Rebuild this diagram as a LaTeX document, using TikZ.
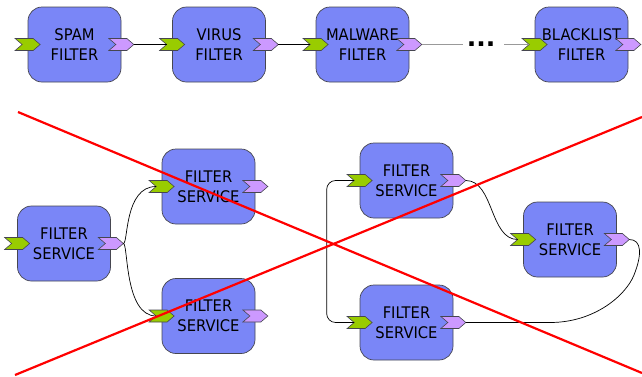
\documentclass[tikz,border=0pt]{standalone}
\usepackage{fontspec}
\setmainfont{DejaVu Sans}[FakeStretch=0.92]
\newfontfamily\dotsfont{DejaVu Sans}
\usetikzlibrary{calc}

\definecolor{boxblue}{RGB}{122,134,247}
\definecolor{portgreen}{RGB}{153,204,0}
\definecolor{portpurple}{RGB}{204,153,255}
\definecolor{edgegray}{RGB}{70,70,80}

\tikzset{
  fbox/.style={draw=edgegray, line width=0.7pt, fill=boxblue, rounded corners=14pt,
    minimum width=93pt, minimum height=75pt, inner sep=0pt, align=center,
    font=\fontsize{16}{20}\selectfont},
  inport/.style={draw=edgegray, line width=0.6pt, fill=portgreen, line join=miter},
  outport/.style={draw=edgegray, line width=0.6pt, fill=portpurple, line join=miter},
  wire/.style={draw=black, line width=0.7pt},
  faintwire/.style={draw=black!40, line width=0.7pt},
  crossline/.style={draw=red, line width=2.2pt},
}

% chevron port centred on a box edge; defines <name>-tip and <name>-notch
\newcommand\port[3]{%
  \begin{scope}[shift={#2}]
    \draw[#3] (-12.5,-6) -- (5.5,-6) -- (12.5,0) -- (5.5,6) -- (-12.5,6) -- (-5.5,0) -- cycle;
    \coordinate (#1-tip) at (12.5,0);
    \coordinate (#1-notch) at (-5.5,0);
  \end{scope}}

\begin{document}
\begin{tikzpicture}[x=1pt,y=-1pt]
\useasboundingbox (0,0) rectangle (642,376);

% pipeline of filters
\node[fbox] (spam)    at (74.5,44.5)  {SPAM\\FILTER};
\node[fbox] (virus)   at (219,44.5)   {VIRUS\\FILTER};
\node[fbox] (malware) at (362.5,44.5) {MALWARE\\FILTER};
\node[fbox] (black)   at (581.5,44.5) {BLACKLIST\\FILTER};

% graph of filter services
\node[fbox] (a) at (64,243.5)    {FILTER\\SERVICE};
\node[fbox] (b) at (208.5,186.5) {FILTER\\SERVICE};
\node[fbox] (c) at (208.5,316)   {FILTER\\SERVICE};
\node[fbox] (d) at (406.5,180.5) {FILTER\\SERVICE};
\node[fbox] (e) at (406.5,322.5) {FILTER\\SERVICE};
\node[fbox] (f) at (570,239.5)   {FILTER\\SERVICE};

% ports
\port{spamI}{(spam.west)}{inport}   \port{spamO}{(spam.east)}{outport}
\port{virusI}{(virus.west)}{inport} \port{virusO}{(virus.east)}{outport}
\port{malI}{(malware.west)}{inport} \port{malO}{(malware.east)}{outport}
\port{blackI}{(black.west)}{inport} \port{blackO}{(black.east)}{outport}
\port{aI}{(a.west)}{inport} \port{aO}{(a.east)}{outport}
\port{bI}{(b.west)}{inport} \port{bO}{(b.east)}{outport}
\port{cI}{(c.west)}{inport} \port{cO}{(c.east)}{outport}
\port{dI}{(d.west)}{inport} \port{dO}{(d.east)}{outport}
\port{eI}{(e.west)}{inport} \port{eO}{(e.east)}{outport}
\port{fI}{(f.west)}{inport} \port{fO}{(f.east)}{outport}

% pipeline connectors
\draw[wire] (spamO-tip) -- (virusI-notch);
\draw[wire] (virusO-tip) -- (malI-notch);
\node[font=\dotsfont\bfseries\fontsize{25}{25}\selectfont, inner sep=0pt, outer xsep=4pt]
  (dots) at (481,44.5) {...};
\draw[faintwire] (malO-tip) -- (dots.west);
\draw[faintwire] ($(dots.east)+(5,0)$) -- (blackI-notch);

% service graph connectors
\draw[wire] (aO-tip) .. controls +(5,0) and +(-32,0) .. (bI-notch);
\draw[wire] (aO-tip) .. controls +(5,0) and +(-32,0) .. (cI-notch);
\draw[wire, rounded corners=9pt] (dI-notch) -- ++(-27.5,0) |- (eI-notch);
\draw[wire] (dO-tip) .. controls +(28,0) and +(-28,0) .. (fI-notch);
\coordinate (bend) at (634,275);
\draw[wire] (eO-tip) -- (550,322.5) .. controls (595,322.5) and (626,295) .. (bend)
  .. controls (642,255) and (642,239.5) .. (fO-tip);

% crossing-out strokes
\coordinate (x1s) at (18,112);  \coordinate (x1e) at (642,373);
\coordinate (x2s) at (15,375);  \coordinate (x2e) at (642,117);
\draw[crossline] (x1s) -- (x1e);
\draw[crossline] (x2s) -- (x2e);
\end{tikzpicture}
\end{document}
